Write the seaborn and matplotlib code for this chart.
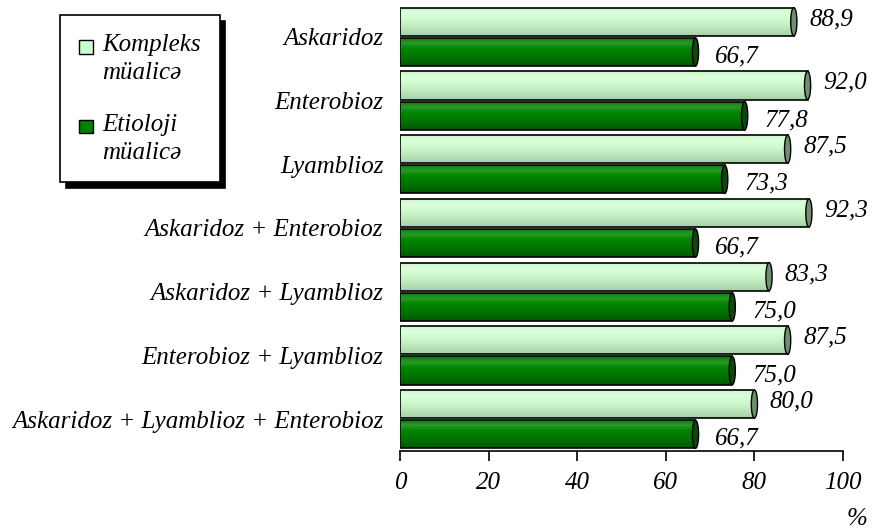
import numpy as np
import pandas as pd
import matplotlib
matplotlib.use("Agg")
import matplotlib.pyplot as plt
import seaborn as sns
from matplotlib.patches import Ellipse, Patch, Rectangle
from matplotlib.legend_handler import HandlerPatch

categories = ["Askaridoz", "Enterobioz", "Lyamblioz", "Askaridoz + Enterobioz",
              "Askaridoz + Lyamblioz", "Enterobioz + Lyamblioz",
              "Askaridoz + Lyamblioz + Enterobioz"]
series_names = ["Kompleks\nmüalicə", "Etioloji\nmüalicə"]
kompleks = [88.9, 92.0, 87.5, 92.3, 83.3, 87.5, 80.0]
etioloji = [66.7, 77.8, 73.3, 66.7, 75.0, 75.0, 66.7]
x_ticks = [0, 20, 40, 60, 80, 100]

df = pd.DataFrame({
    "cat": categories * 2,
    "series": [series_names[0]] * len(categories) + [series_names[1]] * len(categories),
    "val": kompleks + etioloji,
})

sns.set_theme(style="white")
plt.rcParams["font.family"] = ["Liberation Serif", "DejaVu Serif"]
plt.rcParams["font.style"] = "italic"
plt.rcParams["text.color"] = "black"
plt.rcParams["xtick.color"] = "black"
plt.rcParams["ytick.color"] = "black"
plt.rcParams["axes.labelcolor"] = "black"

FS = 18

fig = plt.figure(figsize=(8.76, 5.29), dpi=100)
ax = fig.add_axes([400 / 876, 1 - 451 / 529, 443 / 876, 446 / 529])

light_top = "#ccffcc"
dark_top = "#008000"
face = [light_top, dark_top]

sns.barplot(data=df, y="cat", x="val", hue="series", hue_order=series_names,
            order=categories, orient="h", palette=face, width=0.95, gap=0.07,
            edgecolor="black", linewidth=1.2, ax=ax, legend=False, errorbar=None)

ax.set_xlim(0, 100)
ax.set_ylim(6.5, -0.5)

# cylinder shading & caps derived from the bar patches
bars = [p for p in ax.patches]
n = len(categories)
for i, p in enumerate(bars):
    dark = i >= n
    x0, y0, w, h = p.get_x(), p.get_y(), p.get_width(), p.get_height()
    if dark:
        cols = ["#007a00", "#2a9a2a", "#008600", "#007a00", "#006a00", "#005600"]
    else:
        cols = ["#c8f4c8", "#dcffdc", "#d0fcd0", "#c6f0c6", "#b6e2b6", "#a6cea6"]
    cmap = matplotlib.colors.LinearSegmentedColormap.from_list("g", cols)
    gimg = np.linspace(0, 1, 64).reshape(-1, 1)
    im = ax.imshow(gimg, cmap=cmap, aspect="auto", extent=(x0, x0 + w, y0 + h, y0),
                   zorder=p.get_zorder() + 0.1, interpolation="bilinear")
    im.set_clip_path(p)
    p.set_zorder(p.get_zorder() + 0.2)
    p.set_facecolor("none")
    capc = "#0a4a0a" if dark else "#6f8f6f"
    ax.add_patch(Ellipse((x0 + w, y0 + h / 2), width=1.4, height=h,
                         facecolor=capc, edgecolor="black", linewidth=1.0,
                         zorder=p.get_zorder() + 0.1))
    val = w
    txt = f"{val:.1f}".replace(".", ",")
    if dark:
        ax.text(val + 4.5, y0 + h / 2 + 0.07, txt,
                va="center", ha="left", fontsize=FS, style="italic")
    else:
        ax.text(val + 3.5, y0 + h / 2 - 0.04, txt,
                va="center", ha="left", fontsize=FS, style="italic")

ax.set_ylabel("")
ax.set_xlabel("")
ax.set_xticks(x_ticks)
ax.set_xticklabels([str(t) for t in x_ticks], fontsize=FS, style="italic")
ax.tick_params(axis="x", direction="out", length=7, width=1.2, color="black", pad=8,
               bottom=True)
ax.tick_params(axis="y", length=0, pad=12, labelsize=FS)
for lab in ax.get_yticklabels():
    lab.set_style("italic")
for s in ["top", "right", "left"]:
    ax.spines[s].set_visible(False)
ax.spines["bottom"].set_color("black")
ax.spines["bottom"].set_linewidth(1.2)

fig.text(857 / 876, 1 - 519 / 529, "%", fontsize=FS, style="italic", ha="center", va="center")


def top_square(legend, orig_handle, xdescent, ydescent, width, height, fontsize):
    s = 0.55 * fontsize
    return Rectangle((-xdescent, -ydescent + height - s * 1.15), s, s)


handles = [Patch(facecolor=light_top, edgecolor="black", linewidth=1.0),
           Patch(facecolor=dark_top, edgecolor="black", linewidth=1.0)]
leg = fig.legend(handles, series_names, loc="upper left",
                 bbox_to_anchor=(60 / 876, 1 - 15 / 529), frameon=True, fancybox=False,
                 shadow={"color": "black", "alpha": 1.0, "ox": 4, "oy": -4},
                 prop={"size": FS, "style": "italic"},
                 handler_map={Patch: HandlerPatch(patch_func=top_square)},
                 handlelength=0.6, handleheight=2.3, handletextpad=0.35,
                 labelspacing=1.2, borderpad=0.75, borderaxespad=0, edgecolor="black")
leg.get_frame().set_linewidth(1.2)
for t in leg.get_texts():
    t.set_linespacing(1.35)

fig.savefig("out.png", dpi=100)
